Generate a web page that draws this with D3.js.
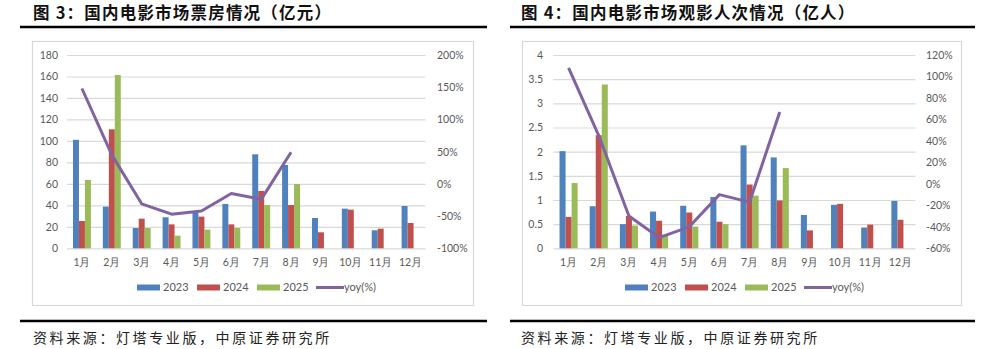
<!DOCTYPE html>
<html>
<head>
<meta charset="utf-8">
<script src="https://cdn.jsdelivr.net/npm/d3@7"></script>
<style>
  html, body { margin: 0; padding: 0; background: #fff; }
  svg { display: block; }
</style>
</head>
<body>
<svg id="chart" width="986" height="349"></svg>
<script>
// ---------- data ----------
const months = ["1月","2月","3月","4月","5月","6月","7月","8月","9月","10月","11月","12月"];
const seriesNames = ["2023", "2024", "2025"];
const lineName = "yoy(%)";

// 图3 box office (亿元)
const box2023 = [101, 38.8, 18.9, 28.9, 33, 41.3, 87.5, 77.6, 28.2, 36.9, 16.8, 39.4];
const box2024 = [25.4, 110.8, 27.6, 22.3, 29.5, 22.3, 53.4, 40.3, 14.9, 36, 18.3, 23.6];
const box2025 = [63.6, 161.4, 18.9, 11.8, 17.4, 18.9, 40.3, 59.9];
const boxYoy  = [148, 45, -31, -47, -42, -15, -24, 49];
const boxLeftTicks  = [0, 20, 40, 60, 80, 100, 120, 140, 160, 180];
const boxRightTicks = [-100, -50, 0, 50, 100, 150, 200];

// 图4 admissions (亿人)
const adm2023 = [2.01, 0.87, 0.50, 0.76, 0.88, 1.06, 2.13, 1.88, 0.69, 0.90, 0.43, 0.98];
const adm2024 = [0.65, 2.34, 0.67, 0.57, 0.74, 0.55, 1.32, 0.99, 0.37, 0.92, 0.49, 0.59];
const adm2025 = [1.35, 3.39, 0.47, 0.28, 0.45, 0.50, 1.09, 1.66];
const admYoy  = [108, 45, -30, -50, -40, -10, -17, 67];
const admLeftTicks  = [0, 0.5, 1, 1.5, 2, 2.5, 3, 3.5, 4];
const admRightTicks = [-60, -40, -20, 0, 20, 40, 60, 80, 100, 120];

const title3 = "图 3：国内电影市场票房情况（亿元）";
const title4 = "图 4：国内电影市场观影人次情况（亿人）";
const sourceText = "资料来源：灯塔专业版，中原证券研究所";

// ---------- style ----------
const colors = { "2023": "#4F81BD", "2024": "#C0504D", "2025": "#9BBB59", line: "#8064A2" };
const gridColor = "#d9d9d9";
const labelColor = "#595959";
const numFont = "Lato, 'Open Sans', sans-serif";
const cjkFont = "'Noto Sans CJK SC', sans-serif";

const svg = d3.select("#chart");

function drawPanel(cfg) {
  const g = svg.append("g").attr("transform", `translate(${cfg.ox},0)`);

  // title
  g.append("text")
    .attr("x", cfg.titleX).attr("y", 18.5)
    .attr("font-family", cjkFont).attr("font-weight", 700)
    .attr("font-size", 16.5).attr("letter-spacing", 1.2)
    .attr("fill", "#111")
    .text(cfg.title);

  // top and bottom thick rules
  [27, 321].forEach(y => {
    g.append("line")
      .attr("x1", cfg.ruleX0).attr("x2", cfg.ruleX1)
      .attr("y1", y).attr("y2", y)
      .attr("stroke", "#000").attr("stroke-width", 2.6);
  });

  // source
  g.append("text")
    .attr("x", cfg.titleX).attr("y", 342.5)
    .attr("font-family", cjkFont).attr("font-size", 14)
    .attr("letter-spacing", 2.6)
    .attr("fill", "#222")
    .text(sourceText);

  // frame
  g.append("rect")
    .attr("x", cfg.frameX0 + 0.5).attr("y", 41.5)
    .attr("width", cfg.frameX1 - cfg.frameX0).attr("height", 264)
    .attr("fill", "none").attr("stroke", gridColor).attr("stroke-width", 1.2);

  const yTop = 55, yBot = 248.3;
  const x = d3.scaleBand().domain(months).range([cfg.plotX0, cfg.plotX1]).padding(0);
  const step = x.bandwidth();
  const xs = d3.scaleBand().domain(seriesNames)
    .range([0, step * 3 / 5]).padding(0);
  const yL = d3.scaleLinear().domain(cfg.leftDomain).range([yBot, yTop]);
  const yR = d3.scaleLinear().domain(cfg.rightDomain).range([yBot, yTop]);

  // gridlines
  g.append("g")
    .attr("transform", `translate(${cfg.plotX0},0)`)
    .call(d3.axisLeft(yL).tickValues(cfg.leftTicks).tickSize(-(cfg.plotX1 - cfg.plotX0)).tickFormat(""))
    .call(s => s.select(".domain").remove())
    .call(s => s.selectAll("line").attr("stroke", gridColor).attr("stroke-width", 1.2));

  // left axis labels
  g.append("g")
    .attr("transform", `translate(${cfg.leftLabelX},0)`)
    .call(d3.axisLeft(yL).tickValues(cfg.leftTicks).tickSize(0).tickPadding(0).tickFormat(d => String(d)))
    .call(s => s.select(".domain").remove())
    .call(s => s.selectAll("text").attr("fill", labelColor).attr("font-family", numFont).attr("font-size", 10.5));

  // right axis labels
  g.append("g")
    .attr("transform", `translate(${cfg.rightLabelX},0)`)
    .call(d3.axisRight(yR).tickValues(cfg.rightTicks).tickSize(0).tickPadding(0).tickFormat(d => d + "%"))
    .call(s => s.select(".domain").remove())
    .call(s => s.selectAll("text").attr("fill", labelColor).attr("font-family", numFont).attr("font-size", 10.5));

  // x labels
  g.append("g")
    .attr("transform", `translate(0,${yBot + 10})`)
    .call(d3.axisBottom(x).tickSize(0).tickPadding(0))
    .call(s => s.select(".domain").remove())
    .call(s => s.selectAll("text").attr("fill", labelColor).attr("font-family", numFont).attr("font-size", 10.5).attr("dy", "0.71em"));

  // bars
  const groupOffset = (step - step * 3 / 5) / 2;
  cfg.series.forEach((vals, si) => {
    const name = seriesNames[si];
    g.append("g").selectAll("rect")
      .data(vals.map((v, i) => ({ m: months[i], v })).filter(d => d.v != null))
      .join("rect")
      .attr("x", d => x(d.m) + groupOffset + xs(name))
      .attr("width", xs.bandwidth())
      .attr("y", d => yL(d.v))
      .attr("height", d => yBot - yL(d.v))
      .attr("fill", colors[name]);
  });

  // line
  const line = d3.line()
    .x((d, i) => x(months[i]) + step / 2)
    .y(d => yR(d));
  g.append("path")
    .datum(cfg.yoy)
    .attr("d", line)
    .attr("fill", "none")
    .attr("stroke", colors.line)
    .attr("stroke-width", 3)
    .attr("stroke-linejoin", "round");

  // legend
  const ly = 287.5;
  const lg = g.append("g").attr("font-family", numFont).attr("font-size", 11).attr("fill", labelColor);
  seriesNames.forEach((n, i) => {
    const lx = cfg.legendX + i * 60;
    lg.append("rect").attr("x", lx).attr("y", ly - 3).attr("width", 23).attr("height", 6).attr("fill", colors[n]);
    lg.append("text").attr("x", lx + 26).attr("y", ly).attr("dy", "0.36em").text(n);
  });
  const llx = cfg.legendX + 180;
  lg.append("line").attr("x1", llx - 1).attr("x2", llx + 27).attr("y1", ly).attr("y2", ly)
    .attr("stroke", colors.line).attr("stroke-width", 3);
  lg.append("text").attr("x", llx + 27).attr("y", ly).attr("dy", "0.36em").text(lineName);
}

drawPanel({
  ox: 0, title: title3, titleX: 33, ruleX0: 20, ruleX1: 487,
  frameX0: 32, frameX1: 473,
  plotX0: 67, plotX1: 425.5,
  leftLabelX: 58, rightLabelX: 437,
  leftDomain: [0, 180], rightDomain: [-100, 200],
  leftTicks: boxLeftTicks, rightTicks: boxRightTicks,
  series: [box2023, box2024, box2025], yoy: boxYoy,
  legendX: 137
});

drawPanel({
  ox: 0, title: title4, titleX: 521, ruleX0: 510, ruleX1: 975,
  frameX0: 522, frameX1: 961,
  plotX0: 553.5, plotX1: 915.5,
  leftLabelX: 543, rightLabelX: 926,
  leftDomain: [0, 4], rightDomain: [-60, 120],
  leftTicks: admLeftTicks, rightTicks: admRightTicks,
  series: [adm2023, adm2024, adm2025], yoy: admYoy,
  legendX: 625
});
</script>
</body>
</html>
